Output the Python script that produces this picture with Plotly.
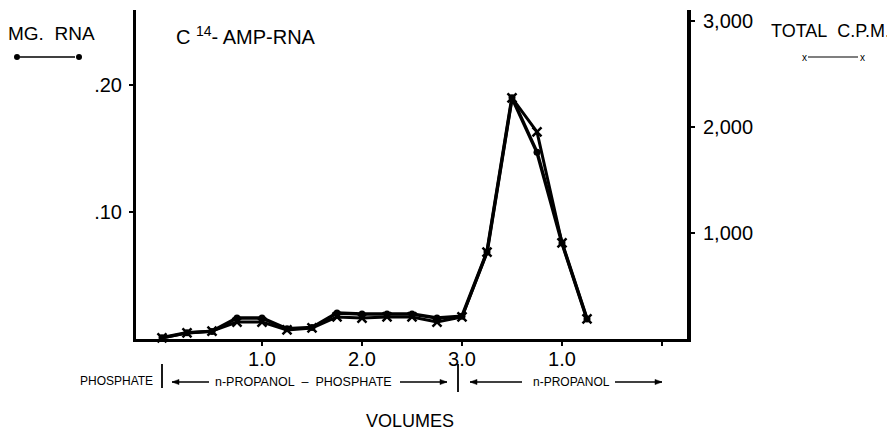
import plotly.graph_objects as go

# ---- data ----
volumes = [0, 0.25, 0.5, 0.75, 1.0, 1.25, 1.5, 1.75, 2.0, 2.25, 2.5, 2.75, 3.0,
           3.25, 3.5, 3.75, 4.0, 4.25]
mg_rna = [0.001, 0.005, 0.006, 0.0165, 0.0165, 0.008, 0.009, 0.0205, 0.0197,
          0.0197, 0.0197, 0.0165, 0.018, 0.0685, 0.19, 0.147, 0.0756, 0.0157]
total_cpm = [10, 57, 75, 160, 160, 85, 104, 208, 198, 208, 208, 160, 208,
             820, 2274, 1953, 906, 189]

x_tickvals = [1, 2, 3, 4]
x_ticktext = ["1.0", "2.0", "3.0", "1.0"]
x_unlabelled_ticks = [5]
left_tickvals = [0.10, 0.20]
left_ticktext = [".10", ".20"]
right_tickvals = [1000, 2000, 3000]
right_ticktext = ["1,000", "2,000", "3,000"]

OFF = 8  # browser body margin
W, H = 895 - OFF, 430 - OFF
# plot area in page pixels
PL, PR, PT, PB = 136, 687, 10, 339
L, R, T, B = PL - OFF, PR - OFF, PT - OFF, PB - OFF
FONT = "Liberation Sans, Arial"


def px(x):  # page pixel -> paper
    return (x - PL) / (PR - PL)


def py(y):
    return (PB - y) / (PB - PT)


fig = go.Figure()
fig.add_trace(go.Scatter(
    x=volumes, y=mg_rna, mode="lines+markers", name="MG. RNA",
    line=dict(color="black", width=3.5),
    marker=dict(symbol="circle", size=7, color="black"),
    yaxis="y", cliponaxis=False))
fig.add_trace(go.Scatter(
    x=volumes, y=total_cpm, mode="lines+markers", name="TOTAL C.P.M.",
    line=dict(color="black", width=3),
    marker=dict(symbol="x-thin", size=9, line=dict(color="black", width=2.5)),
    yaxis="y2", cliponaxis=False))

fig.update_layout(
    width=W, height=H,
    margin=dict(l=L, r=W - R, t=T, b=H - B, autoexpand=False),
    paper_bgcolor="white", plot_bgcolor="white",
    showlegend=False,
    font=dict(family=FONT, color="black", size=18),
    xaxis=dict(range=[-0.26, 5.25], showgrid=False, zeroline=False,
               showline=True, linecolor="black", linewidth=3,
               tickvals=x_tickvals, ticktext=x_ticktext,
               ticks="outside", ticklen=4, tickwidth=2, tickcolor="black",
               ticklabelstandoff=-4,
               minor=dict(tickvals=x_unlabelled_ticks, ticks="outside",
                          ticklen=4, tickwidth=2, tickcolor="black",
                          showgrid=False),
               tickfont=dict(size=20, family=FONT)),
    yaxis=dict(range=[0, (PB - PT) / 1270], showgrid=False, zeroline=False,
               showline=True, linecolor="black", linewidth=3,
               tickvals=left_tickvals, ticktext=left_ticktext,
               ticks="outside", ticklen=4, tickwidth=2, tickcolor="black",
               ticklabelstandoff=3,
               tickfont=dict(size=20, family=FONT)),
    yaxis2=dict(range=[0, (PB - PT) / 0.106], overlaying="y", side="right",
                showgrid=False, zeroline=False,
                showline=True, linecolor="black", linewidth=4,
                tickvals=right_tickvals, ticktext=right_ticktext,
                ticks="outside", ticklen=4, tickwidth=2, tickcolor="black",
                ticklabelstandoff=4,
                tickfont=dict(size=20, family=FONT)),
)

ann = []


def text(x, y, s, size=18, xanchor="left"):
    ann.append(dict(x=px(x), y=py(y), xref="paper", yref="paper", text=s,
                    showarrow=False, xanchor=xanchor, yanchor="middle",
                    font=dict(size=size, family=FONT, color="black")))


text(6, 33, "MG.\u00a0 RNA", 19)
text(174, 36, "C <sup>14</sup>- AMP-RNA", 20)
text(769, 31, "TOTAL\u00a0 C.P.M.", 18)
text(804, 57, "x", 10, "center")
text(862, 57, "x", 10, "center")
text(78, 381, "PHOSPHATE", 12)
text(213, 382, "n-PROPANOL\u00a0 –\u00a0 PHOSPHATE", 12.5)
text(531, 382, "n-PROPANOL", 12)
text(410, 421, "VOLUMES", 18, "center")

shapes = []


def seg(x0, y0, x1, y1, w=1.5):
    shapes.append(dict(type="line", xref="paper", yref="paper",
                       x0=px(x0), y0=py(y0), x1=px(x1), y1=py(y1),
                       line=dict(color="black", width=w)))


def dot(x, y, r=3):
    shapes.append(dict(type="circle", xref="paper", yref="paper",
                       x0=px(x - r), y0=py(y + r), x1=px(x + r), y1=py(y - r),
                       fillcolor="black", line=dict(color="black", width=0)))


def harrow(head_x, tail_x, y):
    seg(tail_x, y, head_x, y, 1.3)
    d = 1 if head_x > tail_x else -1
    hx, bx = head_x, head_x - d * 7
    path = "M {} {} L {} {} L {} {} Z".format(
        px(hx), py(y), px(bx), py(y - 2.6), px(bx), py(y + 2.6))
    shapes.append(dict(type="path", xref="paper", yref="paper", path=path,
                       fillcolor="black", line=dict(color="black", width=0.5)))


seg(20, 57, 75, 57, 1.5)
dot(17, 57)
dot(79, 57)
seg(808, 57, 858, 57, 1.2)
seg(162, 364, 162, 388, 1.8)
seg(458, 364, 458, 392, 1.8)
harrow(172, 209, 382)
harrow(447, 400, 382)
harrow(470, 522, 382)
harrow(662, 615, 382)

fig.update_layout(annotations=ann, shapes=shapes)
fig.write_html("out.html")
